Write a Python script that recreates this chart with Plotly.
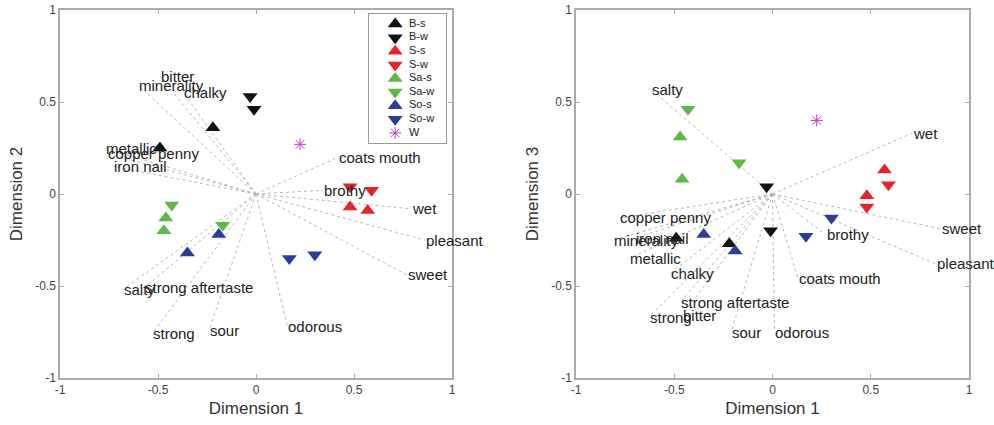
import plotly.graph_objects as go

# ---------------- data ----------------
series_names = ["B-s", "B-w", "S-s", "S-w", "Sa-s", "Sa-w", "So-s", "So-w", "W"]
series_colors = ["#111111", "#111111", "#e8242b", "#e8242b", "#5dba47", "#5dba47",
                 "#2b3c9e", "#2b3c9e", "#c23cc2"]
series_symbols = ["triangle-up", "triangle-down", "triangle-up", "triangle-down",
                  "triangle-up", "triangle-down", "triangle-up", "triangle-down",
                  "asterisk-open"]

# sample coordinates (Dimension 1, 2, 3), two replicates per series
bs_d1, bs_d2, bs_d3 = [-0.22, -0.49], [0.36, 0.25], [-0.27, -0.24]
bw_d1, bw_d2, bw_d3 = [-0.03, -0.01], [0.53, 0.46], [0.04, -0.20]
ss_d1, ss_d2, ss_d3 = [0.48, 0.57], [-0.07, -0.09], [-0.01, 0.13]
sw_d1, sw_d2, sw_d3 = [0.48, 0.59], [0.04, 0.02], [-0.07, 0.05]
sas_d1, sas_d2, sas_d3 = [-0.46, -0.47], [-0.13, -0.20], [0.08, 0.31]
saw_d1, saw_d2, saw_d3 = [-0.43, -0.17], [-0.06, -0.17], [0.46, 0.17]
sos_d1, sos_d2, sos_d3 = [-0.19, -0.35], [-0.22, -0.32], [-0.31, -0.22]
sow_d1, sow_d2, sow_d3 = [0.17, 0.30], [-0.35, -0.33], [-0.23, -0.13]
w_d1, w_d2, w_d3 = [0.225], [0.27], [0.40]

# attribute vectors, panel Dimension 1 vs Dimension 2
attr_left = ["minerality", "bitter", "chalky", "metallic", "copper penny", "iron nail",
             "salty", "strong aftertaste", "strong", "sour", "odorous",
             "coats mouth", "brothy", "wet", "pleasant", "sweet"]
left_v1 = [-0.60, -0.49, -0.37, -0.77, -0.76, -0.73, -0.68, -0.57, -0.53, -0.24, 0.16,
           0.42, 0.34, 0.79, 0.86, 0.77]
left_v2 = [0.59, 0.64, 0.55, 0.25, 0.22, 0.15, -0.52, -0.51, -0.76, -0.74, -0.72,
           0.20, 0.02, -0.08, -0.25, -0.44]

# attribute vectors, panel Dimension 1 vs Dimension 3
attr_right = ["salty", "wet", "sweet", "pleasant", "brothy", "coats mouth", "odorous",
              "sour", "strong aftertaste", "bitter", "strong", "chalky", "metallic",
              "minerality", "iron nail", "copper penny"]
right_v1 = [-0.62, 0.71, 0.86, 0.83, 0.27, 0.13, 0.01, -0.21, -0.47, -0.46, -0.63,
            -0.52, -0.73, -0.81, -0.70, -0.78]
right_v3 = [0.57, 0.33, -0.19, -0.38, -0.22, -0.46, -0.75, -0.75, -0.59, -0.66, -0.67,
            -0.43, -0.35, -0.25, -0.24, -0.13]

tick_vals = [-1, -0.5, 0, 0.5, 1]
tick_text = ["-1", "-0.5", "0", "0.5", "1"]

series_d1 = [bs_d1, bw_d1, ss_d1, sw_d1, sas_d1, saw_d1, sos_d1, sow_d1, w_d1]
series_d2 = [bs_d2, bw_d2, ss_d2, sw_d2, sas_d2, saw_d2, sos_d2, sow_d2, w_d2]
series_d3 = [bs_d3, bw_d3, ss_d3, sw_d3, sas_d3, saw_d3, sos_d3, sow_d3, w_d3]

# ---------------- figure ----------------
W, H = 994, 425
fig = go.Figure()
LINE_C = "#b0b0b0"
FAM = "Liberation Sans, Arial, sans-serif"
TXT_FONT = dict(family=FAM, size=15, color="#222222")


def vec_xy(vx, vy):
    xs, ys = [], []
    for a, b in zip(vx, vy):
        xs += [0, a, None]
        ys += [0, b, None]
    return xs, ys


for (vx, vy, names, xa, ya) in [(left_v1, left_v2, attr_left, "x", "y"),
                                (right_v1, right_v3, attr_right, "x2", "y2")]:
    xs, ys = vec_xy(vx, vy)
    fig.add_trace(go.Scatter(x=xs, y=ys, mode="lines", xaxis=xa, yaxis=ya,
                             line=dict(color=LINE_C, width=0.9, dash="dot"),
                             hoverinfo="skip", showlegend=False))
    for a, b, t in zip(vx, vy, names):
        fig.add_annotation(x=a, y=b, xref=xa, yref=ya, text=t, showarrow=False,
                           xanchor="left", yanchor="middle", font=TXT_FONT,
                           borderpad=0)


def marker_for(i, size=13):
    if series_symbols[i] == "asterisk-open":
        return dict(symbol="asterisk-open", size=10, color=series_colors[i],
                    line=dict(color=series_colors[i], width=1))
    return dict(symbol=series_symbols[i], size=size, color=series_colors[i],
                line=dict(width=0))


for i, name in enumerate(series_names):
    fig.add_trace(go.Scatter(x=series_d1[i], y=series_d2[i], mode="markers",
                             xaxis="x", yaxis="y", name=name, marker=marker_for(i),
                             showlegend=False))
    fig.add_trace(go.Scatter(x=series_d1[i], y=series_d3[i], mode="markers",
                             xaxis="x2", yaxis="y2", name=name, marker=marker_for(i),
                             showlegend=False))

# legend (drawn on a small helper axis, one row per series)
rows = list(range(len(series_names)))
for i, name in enumerate(series_names):
    fig.add_trace(go.Scatter(x=[0.34], y=[i], mode="markers", xaxis="x3", yaxis="y3",
                             marker=marker_for(i, size=13), showlegend=False,
                             hoverinfo="skip"))
fig.add_trace(go.Scatter(x=[0.52] * len(series_names), y=rows, mode="text",
                         text=series_names, textposition="middle right",
                         xaxis="x3", yaxis="y3", showlegend=False, hoverinfo="skip",
                         textfont=dict(family=FAM, size=11, color="#222222")))


def px_x(p):
    return p / W


def px_y(p):
    return 1 - p / H


AX_C = "#ababab"
TICK_FONT = dict(family=FAM, size=12, color="#444444")
TITLE_FONT = dict(family=FAM, size=17, color="#333333")

common = dict(range=[-1, 1], tickvals=tick_vals, ticktext=tick_text, showgrid=False,
              zeroline=False, showline=True, linecolor=AX_C, linewidth=1.5,
              mirror="ticks", ticks="inside", ticklen=4, tickcolor=AX_C,
              tickfont=TICK_FONT, fixedrange=True, automargin=False)

helper = dict(showgrid=False, zeroline=False, showticklabels=False, ticks="",
              showline=True, mirror=True, linecolor="#9a9a9a", linewidth=1,
              fixedrange=True, automargin=False)

fig.update_layout(
    width=W, height=H, margin=dict(l=0, r=0, t=0, b=0, pad=0, autoexpand=False),
    paper_bgcolor="white", plot_bgcolor="white", showlegend=False,
    xaxis=dict(domain=[px_x(60), px_x(452)], anchor="y",
               title=dict(text="Dimension 1", font=TITLE_FONT, standoff=6), **common),
    yaxis=dict(domain=[px_y(378), px_y(10)], anchor="x",
               title=dict(text="Dimension 2", font=TITLE_FONT, standoff=8), **common),
    xaxis2=dict(domain=[px_x(576), px_x(969)], anchor="y2",
                title=dict(text="Dimension 1", font=TITLE_FONT, standoff=6), **common),
    yaxis2=dict(domain=[px_y(378), px_y(10)], anchor="x2",
                title=dict(text="Dimension 3", font=TITLE_FONT, standoff=8), **common),
    xaxis3=dict(domain=[px_x(369), px_x(446)], anchor="y3", range=[0, 1], **helper),
    yaxis3=dict(domain=[px_y(143), px_y(14)], anchor="x3", range=[8.735, -0.735],
                **helper),
)

fig.write_html("out.html", config={"displayModeBar": False},
               post_script="document.body.style.margin='0px';"
                           "document.body.style.overflow='hidden';")
